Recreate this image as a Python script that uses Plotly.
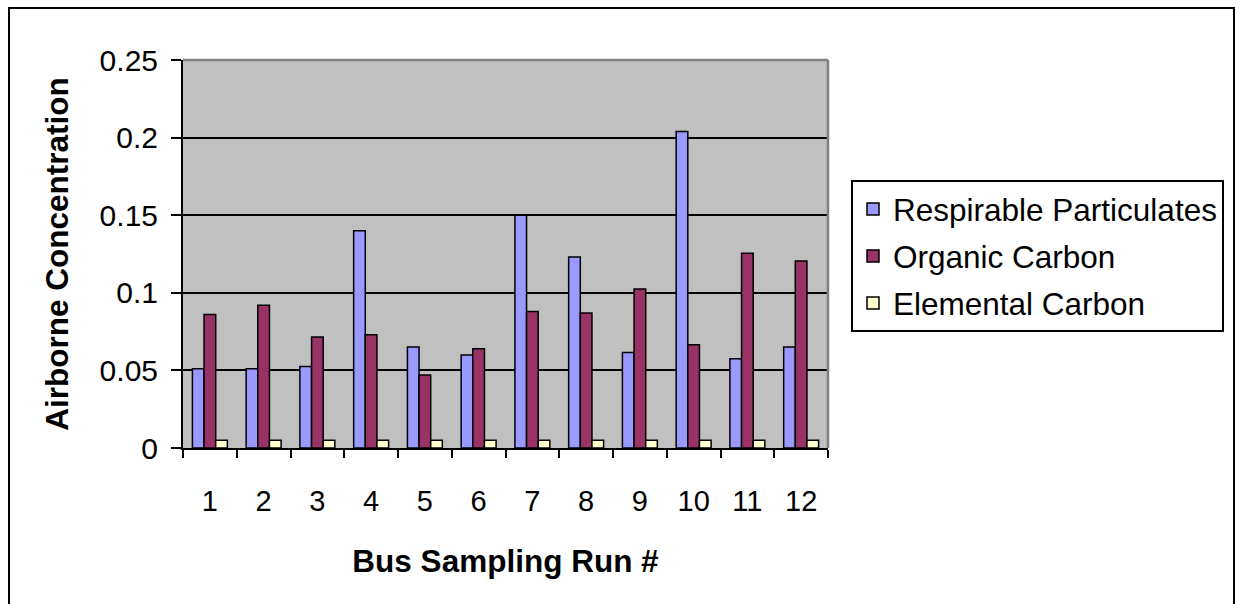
import plotly.graph_objects as go

runs = ["1", "2", "3", "4", "5", "6", "7", "8", "9", "10", "11", "12"]
respirable = [0.051, 0.051, 0.0525, 0.140, 0.065, 0.060, 0.150, 0.123, 0.0615, 0.204, 0.0575, 0.065]
organic = [0.086, 0.092, 0.0715, 0.073, 0.047, 0.064, 0.088, 0.087, 0.1025, 0.0665, 0.1255, 0.1205]
elemental = [0.005] * 12

series = [
    ("Respirable Particulates", respirable, "#9999FF"),
    ("Organic Carbon", organic, "#993366"),
    ("Elemental Carbon", elemental, "#FFFFCC"),
]

W, H = 1235, 604
L, R, T, B = 183, 828, 60, 448
pw, ph = R - L, B - T

def px_x(x):
    return (x - L) / pw

def px_y(y):
    return (B - y) / ph

FONT = "Arial, Liberation Sans, sans-serif"

fig = go.Figure()
for i, (name, vals, col) in enumerate(series):
    fig.add_trace(go.Bar(
        x=runs, y=vals, name=name, legendgroup=f"g{i}",
        marker=dict(color=col, line=dict(color="black", width=1.5)),
    ))

fig.update_layout(
    width=W, height=H,
    margin=dict(l=L, r=W - R, t=T, b=H - B, autoexpand=False),
    paper_bgcolor="white",
    plot_bgcolor="#C0C0C0",
    barmode="group",
    bargap=0.35,
    bargroupgap=0,
    font=dict(family=FONT, size=29, color="black"),
    showlegend=True,
    legend=dict(
        x=px_x(851), y=px_y(180), xanchor="left", yanchor="top",
        bgcolor="white", bordercolor="black", borderwidth=2,
        font=dict(family=FONT, size=31.5, color="black"),
        tracegroupgap=3, traceorder="grouped",
    ),
    xaxis=dict(
        type="category",
        showline=True, linecolor="black", linewidth=2,
        ticks="outside", tickson="boundaries", ticklen=8, tickwidth=2, tickcolor="black",
        showgrid=False, zeroline=False,
        tickfont=dict(family=FONT, size=29),
        ticklabelstandoff=26,
        title=dict(text="<b>Bus Sampling Run #</b>", font=dict(family=FONT, size=31.5), standoff=34),
        automargin=False,
    ),
    yaxis=dict(
        range=[0, 0.25], dtick=0.05,
        showline=True, linecolor="black", linewidth=2,
        ticks="outside", ticklen=10, tickwidth=2, tickcolor="black",
        showgrid=True, gridcolor="black", gridwidth=1.5,
        zeroline=False,
        tickfont=dict(family=FONT, size=30),
        ticklabelstandoff=7,
        title=dict(text="<b>Airborne Concentration</b>", font=dict(family=FONT, size=31.5), standoff=22),
        automargin=False,
    ),
    shapes=[
        dict(type="line", xref="paper", yref="paper", x0=0, x1=1, y0=1, y1=1,
             line=dict(color="#808080", width=2.5), layer="above"),
        dict(type="line", xref="paper", yref="paper", x0=1, x1=1, y0=0, y1=1,
             line=dict(color="#808080", width=2.5), layer="above"),
        dict(type="rect", xref="paper", yref="paper",
             x0=px_x(9), x1=px_x(1234), y0=px_y(612), y1=px_y(8),
             line=dict(color="black", width=2), layer="above"),
    ],
)

fig.write_html(
    "out.html",
    config={"displayModeBar": False},
    post_script="document.body.style.margin='0';document.body.style.overflow='hidden';",
)
